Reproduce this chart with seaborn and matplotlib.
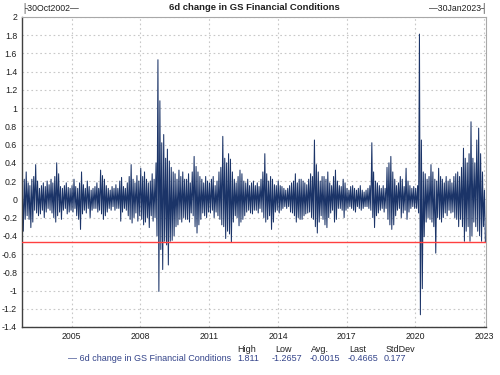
import numpy as np
import pandas as pd
import seaborn as sns
import matplotlib.pyplot as plt
from matplotlib.ticker import FuncFormatter, MultipleLocator

# monthly high / low of the 6d change, Nov 2002 .. Jan 2023
monthly_high = [
    0.10, 0.22,  # 2002 Nov-Dec
    0.30, 0.18, 0.15, 0.22, 0.25, 0.38, 0.20, 0.12, 0.15, 0.18, 0.14, 0.20,  # 2003
    0.16, 0.22, 0.18, 0.25, 0.40, 0.28, 0.14, 0.12, 0.15, 0.18, 0.13, 0.12,  # 2004
    0.15, 0.22, 0.14, 0.12, 0.18, 0.30, 0.16, 0.12, 0.20, 0.14, 0.10, 0.12,  # 2005
    0.14, 0.18, 0.12, 0.32, 0.26, 0.22, 0.15, 0.12, 0.10, 0.14, 0.12, 0.16,  # 2006
    0.12, 0.20, 0.24, 0.14, 0.12, 0.18, 0.25, 0.38, 0.22, 0.18, 0.26, 0.20,  # 2007
    0.34, 0.25, 0.30, 0.22, 0.18, 0.20, 0.28, 0.22, 0.40, 1.53, 1.08, 0.62,  # 2008
    0.71, 0.45, 0.55, 0.42, 0.35, 0.30, 0.28, 0.22, 0.32, 0.25, 0.30, 0.22,  # 2009
    0.22, 0.28, 0.18, 0.30, 0.47, 0.36, 0.30, 0.25, 0.22, 0.18, 0.25, 0.20,  # 2010
    0.18, 0.22, 0.25, 0.15, 0.20, 0.30, 0.35, 0.69, 0.45, 0.40, 0.50, 0.44,  # 2011
    0.30, 0.22, 0.18, 0.25, 0.32, 0.28, 0.20, 0.18, 0.22, 0.15, 0.18, 0.20,  # 2012
    0.15, 0.18, 0.14, 0.22, 0.30, 0.50, 0.28, 0.20, 0.25, 0.22, 0.16, 0.15,  # 2013
    0.20, 0.15, 0.14, 0.12, 0.10, 0.12, 0.15, 0.18, 0.20, 0.28, 0.18, 0.22,  # 2014
    0.22, 0.20, 0.18, 0.16, 0.22, 0.28, 0.25, 0.65, 0.38, 0.30, 0.20, 0.25,  # 2015
    0.25, 0.22, 0.30, 0.18, 0.15, 0.25, 0.32, 0.20, 0.15, 0.14, 0.22, 0.18,  # 2016
    0.12, 0.10, 0.14, 0.15, 0.12, 0.10, 0.12, 0.15, 0.10, 0.08, 0.10, 0.12,  # 2017
    0.15, 0.62, 0.30, 0.20, 0.18, 0.15, 0.12, 0.15, 0.12, 0.35, 0.40, 0.47,  # 2018
    0.30, 0.22, 0.15, 0.18, 0.25, 0.22, 0.14, 0.34, 0.20, 0.15, 0.12, 0.14,  # 2019
    0.12, 0.15, 1.811, 0.65, 0.30, 0.28, 0.22, 0.25, 0.38, 0.30, 0.22, 0.20,  # 2020
    0.34, 0.25, 0.22, 0.18, 0.25, 0.20, 0.22, 0.18, 0.25, 0.28, 0.30, 0.25,  # 2021
    0.35, 0.56, 0.45, 0.40, 0.50, 0.85, 0.45, 0.40, 0.65, 0.78, 0.50, 0.30,  # 2022
    0.10,  # 2023 Jan
]
monthly_low = [
    -0.35, -0.22,
    -0.18, -0.22, -0.31, -0.25, -0.12, -0.15, -0.18, -0.16, -0.12, -0.20, -0.14, -0.10,
    -0.12, -0.15, -0.20, -0.25, -0.18, -0.14, -0.22, -0.12, -0.10, -0.16, -0.14, -0.12,
    -0.14, -0.10, -0.18, -0.22, -0.33, -0.16, -0.12, -0.15, -0.10, -0.20, -0.12, -0.10,
    -0.10, -0.14, -0.12, -0.16, -0.22, -0.18, -0.14, -0.10, -0.12, -0.08, -0.12, -0.10,
    -0.10, -0.24, -0.14, -0.10, -0.12, -0.18, -0.22, -0.26, -0.20, -0.15, -0.24, -0.18,
    -0.22, -0.28, -0.25, -0.20, -0.31, -0.18, -0.24, -0.20, -0.40, -1.01, -0.55, -0.77,
    -0.46, -0.50, -0.72, -0.46, -0.45, -0.40, -0.30, -0.28, -0.22, -0.25, -0.20, -0.22,
    -0.22, -0.25, -0.15, -0.18, -0.30, -0.37, -0.28, -0.22, -0.15, -0.18, -0.20, -0.14,
    -0.15, -0.12, -0.20, -0.14, -0.18, -0.22, -0.28, -0.30, -0.43, -0.35, -0.38, -0.47,
    -0.25, -0.18, -0.20, -0.29, -0.25, -0.22, -0.18, -0.14, -0.12, -0.15, -0.16, -0.12,
    -0.12, -0.15, -0.10, -0.14, -0.20, -0.25, -0.22, -0.18, -0.33, -0.25, -0.14, -0.12,
    -0.15, -0.12, -0.10, -0.08, -0.10, -0.08, -0.14, -0.15, -0.18, -0.25, -0.20, -0.22,
    -0.22, -0.18, -0.16, -0.15, -0.14, -0.20, -0.22, -0.30, -0.37, -0.25, -0.18, -0.22,
    -0.28, -0.31, -0.20, -0.15, -0.12, -0.25, -0.22, -0.10, -0.10, -0.12, -0.20, -0.12,
    -0.10, -0.08, -0.10, -0.12, -0.14, -0.08, -0.10, -0.12, -0.10, -0.08, -0.08, -0.10,
    -0.12, -0.20, -0.31, -0.18, -0.15, -0.12, -0.10, -0.14, -0.10, -0.22, -0.28, -0.33,
    -0.28, -0.18, -0.12, -0.10, -0.20, -0.15, -0.12, -0.22, -0.14, -0.10, -0.08, -0.10,
    -0.10, -0.15, -1.2657, -0.98, -0.41, -0.25, -0.20, -0.22, -0.25, -0.30, -0.59, -0.20,
    -0.22, -0.25, -0.20, -0.15, -0.18, -0.12, -0.15, -0.14, -0.20, -0.22, -0.30, -0.22,
    -0.30, -0.46, -0.35, -0.30, -0.46, -0.40, -0.25, -0.30, -0.35, -0.40, -0.46, -0.30,
    -0.4665,
]

series_name = "6d change in GS Financial Conditions"
stat_names = ["High", "Low", "Avg.", "Last", "StdDev"]
stat_values = ["1.811", "-1.2657", "-0.0015", "-0.4665", "0.177"]
last_value = -0.4665
start_label = "30Oct2002"
end_label = "30Jan2023"
tick_years = [2005, 2008, 2011, 2014, 2017, 2020, 2023]

months = pd.date_range("2002-11-01", "2023-01-01", freq="MS")
hi_dates = months + pd.Timedelta(days=4)
lo_dates = months + pd.Timedelta(days=19)

df = pd.DataFrame({
    "date": np.ravel(np.column_stack([hi_dates, lo_dates])),
    "value": np.ravel(np.column_stack([monthly_high, monthly_low])),
})

navy = "#1b3468"
sns.set_style("white")
plt.rcParams["font.family"] = ["Liberation Sans", "DejaVu Sans"]

fig = plt.figure(figsize=(5, 3.75), dpi=100)
ax = fig.add_axes([0.044, 0.128, 0.928, 0.827])

sns.lineplot(data=df, x="date", y="value", color=navy, linewidth=0.75,
             estimator=None, sort=False, ax=ax)
ax.axhline(last_value, color="#ff4040", linewidth=1.0, zorder=3)

ax.set_xlim(pd.Timestamp("2002-10-30"), pd.Timestamp("2023-01-30"))
ax.set_ylim(-1.4, 2.0)
ax.yaxis.set_major_locator(MultipleLocator(0.2))

def fmt(v, pos):
    v = round(v, 1)
    if v == 0:
        return "0"
    return "%g" % v

ax.yaxis.set_major_formatter(FuncFormatter(fmt))
ax.set_xticks([pd.Timestamp(f"{y}-01-01") for y in tick_years])
ax.set_xticklabels([str(y) for y in tick_years])

ax.grid(True, linestyle=(0, (1.5, 2.5)), color="#c8c8c8", linewidth=0.8)
ax.set_axisbelow(True)
ax.tick_params(axis="both", labelsize=6.3, length=2.5, width=0.8, color="#404040",
               pad=1, labelcolor="#202020")
ax.set_xlabel("")
ax.set_ylabel("")
for side in ["left", "bottom"]:
    ax.spines[side].set_color("#404040")
    ax.spines[side].set_linewidth(1.0)
for side in ["top", "right"]:
    ax.spines[side].set_color("#a8a8a8")
    ax.spines[side].set_linewidth(0.8)

# header above the plot
fig.text(0.508, 0.981, series_name, ha="center", va="center", fontsize=6.8,
         fontweight="bold", color="#202020")
fig.text(0.042, 0.979, "\u251c" + start_label + "\u2014", ha="left", va="center",
         fontsize=6.3, color="#202020")
fig.text(0.975, 0.979, "\u2014" + end_label + "\u2524", ha="right", va="center",
         fontsize=6.3, color="#202020")

# stats legend under the plot
legend_color = "#34448a"
fig.text(0.136, 0.043, "\u2014 " + series_name, ha="left", va="center",
         fontsize=6.5, color=legend_color)
head_x = [0.474, 0.550, 0.622, 0.698, 0.772]
val_x = [0.474, 0.544, 0.620, 0.696, 0.768]
for name, val, hx, vx in zip(stat_names, stat_values, head_x, val_x):
    fig.text(hx, 0.069, name, ha="left", va="center", fontsize=6.5,
             color="#202020")
    fig.text(vx, 0.043, val, ha="left", va="center", fontsize=6.5,
             color=legend_color)

fig.savefig("out.png", dpi=100)
